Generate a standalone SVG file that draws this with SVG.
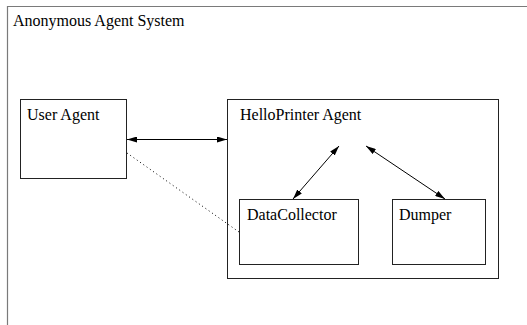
<svg xmlns="http://www.w3.org/2000/svg" width="527" height="325" viewBox="0 0 527 325">
  <style>
    .frame { fill: none; stroke: #7a7a7a; stroke-width: 1.2; }
    .box { fill: #ffffff; stroke: #222222; stroke-width: 1; }
    .lbl { font-family: "Liberation Serif", "Times New Roman", serif; font-size: 16px; fill: #000000; }
    .link { fill: none; stroke: #000000; stroke-width: 1; }
    .dotted { fill: none; stroke: #000000; stroke-width: 1; stroke-dasharray: 1 3; }
  </style>
  <defs>
    <marker id="head" viewBox="0 0 10 6" refX="10" refY="3" markerWidth="10" markerHeight="6" markerUnits="userSpaceOnUse" orient="auto-start-reverse">
      <path d="M0,0 L10,3 L0,6 Z" fill="#000000"/>
    </marker>
  </defs>

  <rect width="527" height="325" fill="#ffffff"/>

  <g id="anonymous-agent-system">
    <path class="frame" d="M7.5,330 V6.5 H530"/>
    <text class="lbl" x="13" y="26">Anonymous Agent System</text>
  </g>

  <g id="user-agent">
    <rect class="box" x="20.5" y="99.5" width="106" height="79"/>
    <text class="lbl" x="27" y="119.5">User Agent</text>
  </g>

  <g id="helloprinter-agent">
    <rect class="box" x="227.5" y="99.5" width="271" height="179"/>
    <text class="lbl" x="240" y="119.5">HelloPrinter Agent</text>
  </g>

  <g id="datacollector">
    <rect class="box" x="239.5" y="199.5" width="119" height="65"/>
    <text class="lbl" x="247" y="219.5">DataCollector</text>
  </g>

  <g id="dumper">
    <rect class="box" x="392.5" y="199.5" width="93" height="65"/>
    <text class="lbl" x="399" y="219.5">Dumper</text>
  </g>

  <g id="connectors">
    <line class="link" x1="127" y1="139.5" x2="227" y2="139.5" marker-start="url(#head)" marker-end="url(#head)"/>
    <line class="link" x1="293" y1="199" x2="339" y2="146" marker-start="url(#head)" marker-end="url(#head)"/>
    <line class="link" x1="366" y1="146" x2="445" y2="199" marker-start="url(#head)" marker-end="url(#head)"/>
    <line class="dotted" x1="127" y1="153" x2="239" y2="232"/>
  </g>
</svg>
